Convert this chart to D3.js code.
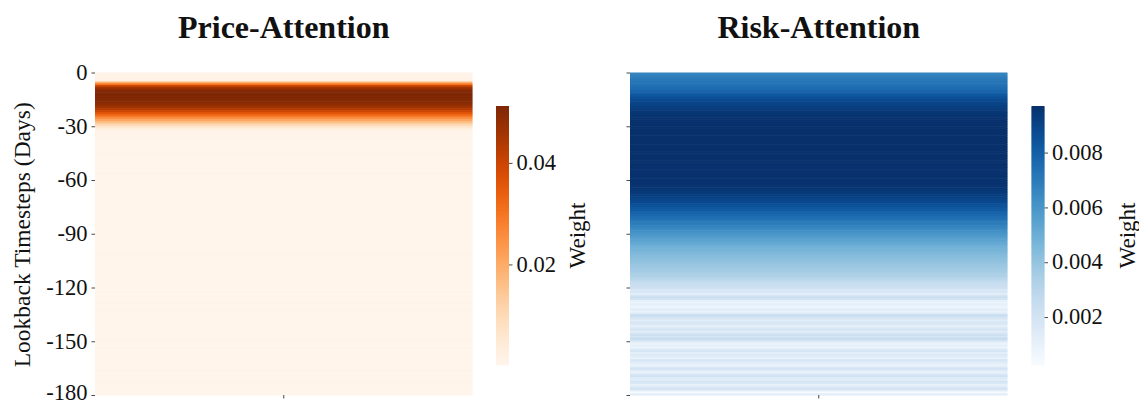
<!DOCTYPE html>
<html>
<head>
<meta charset="utf-8">
<script src="https://cdn.jsdelivr.net/npm/d3@7"></script>
<style>
  html, body { margin: 0; padding: 0; background: #fff; }
  svg { display: block; }
  text { font-family: "Liberation Serif", "Times New Roman", serif; fill: #111; }
</style>
</head>
<body>
<svg id="chart" width="1139" height="405"></svg>
<script>
// ---------------- DATA ----------------
const titles = ["Price-Attention", "Risk-Attention"];
const yTickValues = [0, -30, -60, -90, -120, -150, -180];
const yLabel = "Lookback Timesteps (Days)";
const cbarLabel = "Weight";
const priceCbarTicks = [0.02, 0.04];
const riskCbarTicks = [0.002, 0.004, 0.006, 0.008];

// Price-attention weights per lookback day (row 0 = day 0 ... row 179 = day -179)
const priceWeights = [
  0.0010, 0.0010, 0.0009, 0.0010, 0.0012, 0.0180, 0.0300, 0.0400, 0.0460, 0.0490,
  0.0510, 0.0512, 0.0512, 0.0511, 0.0510, 0.0505, 0.0500, 0.0490, 0.0475, 0.0455,
  0.0430, 0.0400, 0.0365, 0.0330, 0.0290, 0.0250, 0.0210, 0.0170, 0.0130, 0.0090,
  0.0055, 0.0028, 0.0012, 0.0007, 0.0006, 0.0006, 0.0005, 0.0006, 0.0005, 0.0004,
  0.0005, 0.0004, 0.0005, 0.0004, 0.0004, 0.0005, 0.0004, 0.0003, 0.0004, 0.0005,
  0.0004, 0.0003, 0.0004, 0.0004, 0.0003, 0.0004, 0.0005, 0.0004, 0.0003, 0.0004,
  0.0004, 0.0003, 0.0004, 0.0003, 0.0004, 0.0005, 0.0004, 0.0003, 0.0003, 0.0004,
  0.0004, 0.0003, 0.0004, 0.0005, 0.0004, 0.0003, 0.0004, 0.0003, 0.0004, 0.0004,
  0.0003, 0.0004, 0.0003, 0.0004, 0.0005, 0.0004, 0.0003, 0.0004, 0.0003, 0.0004,
  0.0004, 0.0003, 0.0004, 0.0005, 0.0004, 0.0003, 0.0004, 0.0004, 0.0003, 0.0004,
  0.0003, 0.0004, 0.0005, 0.0004, 0.0003, 0.0004, 0.0003, 0.0004, 0.0004, 0.0003,
  0.0004, 0.0005, 0.0004, 0.0003, 0.0004, 0.0003, 0.0004, 0.0005, 0.0004, 0.0003,
  0.0004, 0.0003, 0.0005, 0.0004, 0.0003, 0.0004, 0.0004, 0.0003, 0.0005, 0.0004,
  0.0003, 0.0004, 0.0005, 0.0004, 0.0003, 0.0004, 0.0004, 0.0003, 0.0004, 0.0005,
  0.0004, 0.0003, 0.0004, 0.0004, 0.0005, 0.0003, 0.0004, 0.0004, 0.0003, 0.0005,
  0.0004, 0.0003, 0.0004, 0.0005, 0.0004, 0.0003, 0.0004, 0.0004, 0.0003, 0.0004,
  0.0005, 0.0004, 0.0003, 0.0004, 0.0004, 0.0003, 0.0005, 0.0004, 0.0003, 0.0004,
  0.0004, 0.0003, 0.0004, 0.0005, 0.0004, 0.0002, 0.0004, 0.0004, 0.0003, 0.0004
];

// Risk-attention weights per lookback day (row 0 = day 0 ... row 179 = day -179)
const riskWeights = [
  0.00670, 0.00680, 0.00690, 0.00700, 0.00710, 0.00720, 0.00730, 0.00740, 0.00750, 0.00760,
  0.00780, 0.00800, 0.00820, 0.00840, 0.00860, 0.00880, 0.00890, 0.00900, 0.00910, 0.00920,
  0.00930, 0.00940, 0.00945, 0.00950, 0.00955, 0.00960, 0.00962, 0.00965, 0.00966, 0.00968,
  0.00969, 0.00970, 0.00970, 0.00969, 0.00970, 0.00968, 0.00970, 0.00969, 0.00968, 0.00970,
  0.00969, 0.00967, 0.00968, 0.00969, 0.00970, 0.00968, 0.00967, 0.00969, 0.00968, 0.00966,
  0.00967, 0.00968, 0.00966, 0.00965, 0.00966, 0.00964, 0.00965, 0.00963, 0.00962, 0.00962,
  0.00961, 0.00960, 0.00958, 0.00955, 0.00950, 0.00945, 0.00940, 0.00930, 0.00920, 0.00910,
  0.00900, 0.00890, 0.00880, 0.00860, 0.00850, 0.00830, 0.00820, 0.00800, 0.00790, 0.00770,
  0.00750, 0.00740, 0.00720, 0.00700, 0.00690, 0.00670, 0.00660, 0.00640, 0.00620, 0.00610,
  0.00590, 0.00580, 0.00560, 0.00550, 0.00530, 0.00520, 0.00500, 0.00490, 0.00480, 0.00470,
  0.00460, 0.00450, 0.00440, 0.00430, 0.00420, 0.00410, 0.00400, 0.00390, 0.00380, 0.00370,
  0.00360, 0.00350, 0.00340, 0.00330, 0.00310, 0.00290, 0.00270, 0.00255, 0.00240, 0.00230,
  0.00215, 0.00160, 0.00190, 0.00110, 0.00180, 0.00240, 0.00200, 0.00100, 0.00080, 0.00110,
  0.00070, 0.00100, 0.00130, 0.00085, 0.00150, 0.00250, 0.00210, 0.00170, 0.00130, 0.00190,
  0.00160, 0.00110, 0.00150, 0.00200, 0.00130, 0.00170, 0.00230, 0.00180, 0.00260, 0.00210,
  0.00120, 0.00080, 0.00110, 0.00070, 0.00150, 0.00190, 0.00110, 0.00160, 0.00140, 0.00090,
  0.00180, 0.00150, 0.00110, 0.00080, 0.00160, 0.00200, 0.00130, 0.00090, 0.00170, 0.00210,
  0.00150, 0.00120, 0.00190, 0.00160, 0.00100, 0.00150, 0.00200, 0.00130, 0.00025, 0.00120
];

// ---------------- LAYOUT ----------------
const svg = d3.select("#chart");
const panels = [
  { title: titles[0], data: priceWeights, interp: d3.interpolateOranges, cbarTicks: priceCbarTicks,
    x0: 95, x1: 472.5, cbX: 496, showLabels: true, labelX: 577 },
  { title: titles[1], data: riskWeights, interp: d3.interpolateBlues, cbarTicks: riskCbarTicks,
    x0: 630, x1: 1007.5, cbX: 1031.5, showLabels: false, labelX: 1127 }
];
const plotTop = 72.5, plotBottom = 395;
const cbTop = 106, cbBottom = 365, cbW = 13;
const tickColor = "#333";

panels.forEach(p => {
  const n = p.data.length;
  const rowScale = d3.scaleBand().domain(d3.range(n)).range([plotTop, plotBottom]);
  const colScale = d3.scaleBand().domain([""]).range([p.x0, p.x1]);
  const ext = d3.extent(p.data);
  const color = d3.scaleSequential(p.interp).domain(ext);

  const g = svg.append("g");

  // heatmap cells
  g.selectAll("rect.cell").data(p.data).join("rect")
    .attr("class", "cell")
    .attr("x", colScale(""))
    .attr("width", colScale.bandwidth())
    .attr("y", (d, i) => rowScale(i))
    .attr("height", rowScale.bandwidth() + 0.6)
    .attr("fill", d => color(d));

  // y axis
  const yScale = d3.scaleLinear().domain([0, -n]).range([plotTop, plotBottom]);
  const yAxis = d3.axisLeft(yScale).tickValues(yTickValues).tickSize(3.5).tickPadding(4)
    .tickFormat(d => p.showLabels ? String(d) : "");
  const ya = g.append("g").attr("transform", `translate(${p.x0},0)`).call(yAxis);
  ya.select(".domain").remove();
  ya.selectAll(".tick line").attr("stroke", tickColor).attr("stroke-width", 0.9);
  ya.selectAll(".tick text").style("font-size", "22.5px").style("font-family", "'Liberation Serif', serif")
    .attr("fill", "#111").attr("dy", (d, i, arr) => i === arr.length - 1 ? "0.2em" : "0.3em");

  // x axis (single unlabeled tick)
  const xAxis = d3.axisBottom(colScale).tickSize(3.5).tickFormat(() => "");
  const xa = g.append("g").attr("transform", `translate(0,${plotBottom})`).call(xAxis);
  xa.select(".domain").remove();
  xa.selectAll(".tick line").attr("stroke", tickColor).attr("stroke-width", 0.9);

  // title
  g.append("text")
    .attr("x", (p.x0 + p.x1) / 2).attr("y", 38)
    .attr("text-anchor", "middle")
    .style("font-size", "32px").style("font-weight", "bold")
    .text(p.title);

  // colorbar
  const cbScale = d3.scaleLinear().domain(ext).range([cbBottom, cbTop]);
  const steps = d3.range(0, cbBottom - cbTop, 1);
  g.selectAll("rect.cb").data(steps).join("rect")
    .attr("class", "cb")
    .attr("x", p.cbX).attr("width", cbW)
    .attr("y", s => cbTop + s).attr("height", 1.5)
    .attr("fill", s => color(cbScale.invert(cbTop + s + 0.5)));
  const cbAxis = d3.axisRight(cbScale).tickValues(p.cbarTicks).tickSize(3.5).tickPadding(4)
    .tickFormat(d3.format(p.cbarTicks[0] < 0.01 ? ".3f" : ".2f"));
  const ca = g.append("g").attr("transform", `translate(${p.cbX + cbW},0)`).call(cbAxis);
  ca.select(".domain").remove();
  ca.selectAll(".tick line").attr("stroke", tickColor).attr("stroke-width", 0.9);
  ca.selectAll(".tick text").style("font-size", "22.5px").style("font-family", "'Liberation Serif', serif")
    .attr("fill", "#111").attr("dy", "0.3em");

  // colorbar label
  g.append("text")
    .attr("transform", `translate(${p.labelX},${(cbTop + cbBottom) / 2}) rotate(-90)`)
    .attr("text-anchor", "middle").attr("dy", "0.35em")
    .style("font-size", "23px")
    .text(cbarLabel);
});

// y label
svg.append("text")
  .attr("transform", `translate(22,${(plotTop + plotBottom) / 2 + 1}) rotate(-90)`)
  .attr("text-anchor", "middle").attr("dy", "0.35em")
  .style("font-size", "23.5px")
  .text(yLabel);
</script>
</body>
</html>
